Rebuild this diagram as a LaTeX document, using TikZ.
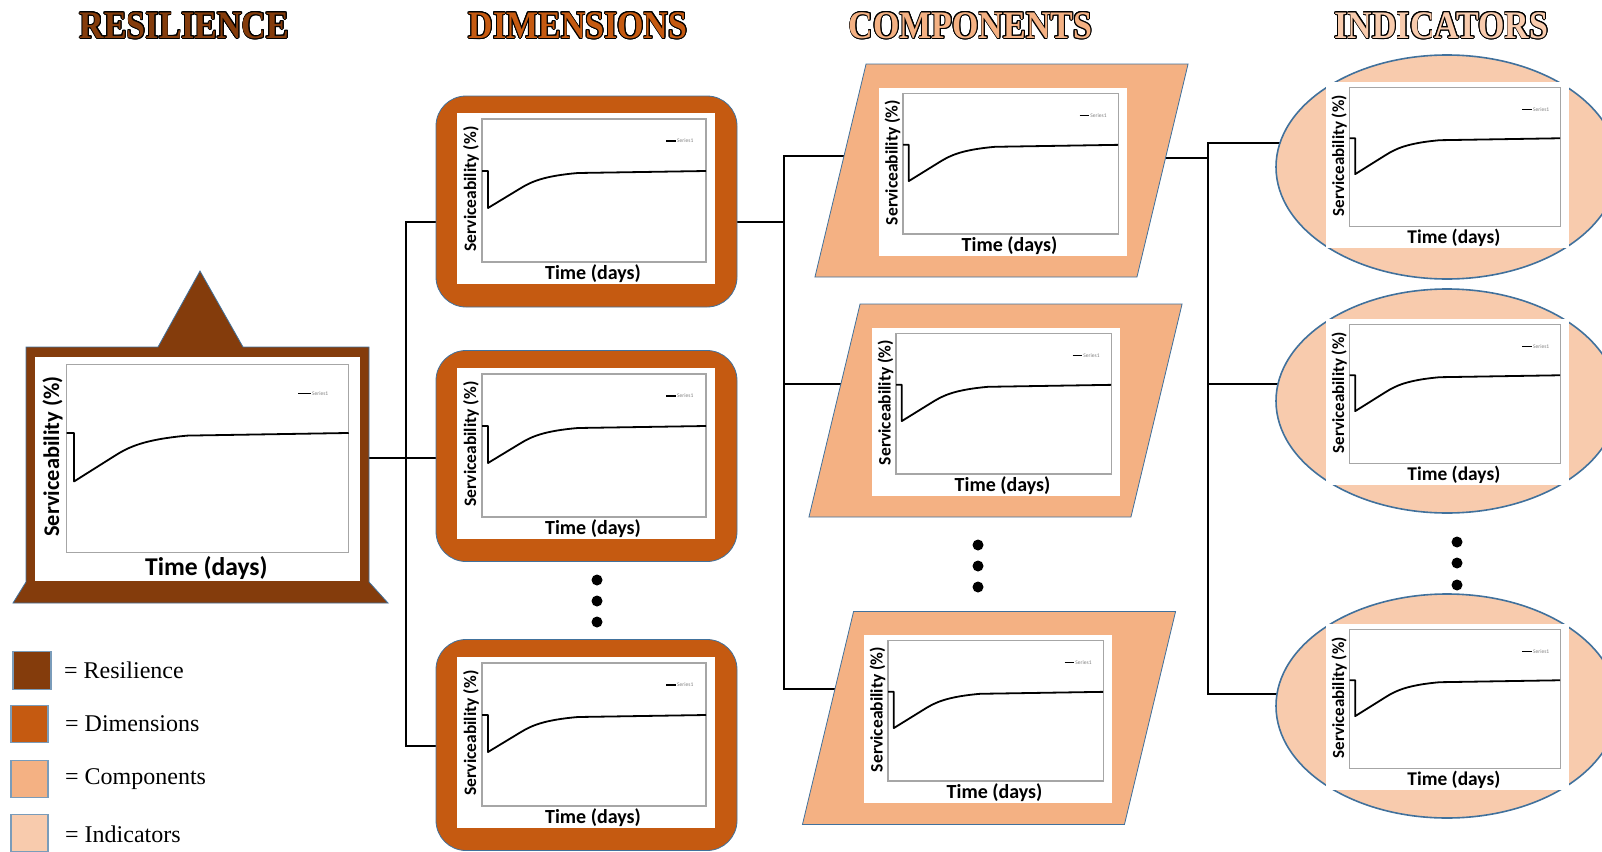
\documentclass[tikz,border=0pt]{standalone}
\usepackage{fontspec}
\setmainfont{Liberation Serif}
\setsansfont{Carlito}
\usepackage[copies]{contour}
\usetikzlibrary{shapes.geometric,backgrounds}

\definecolor{resil}{HTML}{843C0C}
\definecolor{dimen}{HTML}{C55A11}
\definecolor{compo}{HTML}{F4B183}
\definecolor{indic}{HTML}{F8CBAD}
\definecolor{edge}{HTML}{41719C}
\contourlength{1pt}

\begin{document}
\begin{tikzpicture}[x=1pt,y=-1pt]

\tikzset{line/.style={draw,line width=2pt}}
\tikzset{outl/.style={draw=edge,line width=0.8pt,inner sep=0pt}}
\tikzset{dimbox/.style={outl,rectangle,rounded corners=30pt,fill=dimen,minimum width=301pt,minimum height=211pt}}
\tikzset{compbox/.style={outl,rectangle,xslant=0.24,fill=compo,minimum width=322pt,minimum height=213pt}}
\tikzset{indbox/.style={outl,ellipse,line width=1.6pt,fill=indic,minimum width=342pt,minimum height=224pt}}
\tikzset{legbox/.style={draw=edge!70,line width=1.2pt,fill=#1,minimum size=37pt,inner sep=0pt}}
\tikzset{legtext/.style={anchor=west,inner sep=0pt,font=\fontsize{24}{24}\selectfont}}
\tikzset{head/.style={font=\fontsize{39}{39}\selectfont\bfseries,xscale=0.87,text=#1}}
\tikzset{plotframe/.style={draw=black!35,line width=1.1pt}}
\tikzset{servline/.style={draw=black,line width=1.8pt,line join=round}}
\tikzset{keytext/.style={anchor=west,inner sep=1pt,text=black!50,font=\sffamily\fontsize{5.5}{5.5}\selectfont}}
\tikzset{chart/.pic={
  \pgfmathsetmacro\chxs{20*#1}
  \pgfmathsetmacro\chys{17.5*#1}
  \fill[white] (0,0) rectangle (258,171);
  \draw[plotframe] (25,6) rectangle (249,149);
  \draw[servline] (25,58) -- (31,58) -- (31,95) -- (64,75) .. controls (74,69) and (86,63) .. (121,60) -- (249,58);
  \draw[servline,line width=1.3pt] (209,28) -- (219,28);
  \node[keytext] (key) at (219,28) {Series1};
  \node[font=\sffamily\bfseries\fontsize{\chys}{\chys}\selectfont,rotate=90] (ylab) at (14,76) {Serviceability (\%)};
  \node[font=\sffamily\bfseries\fontsize{\chxs}{\chxs}\selectfont] (xlab) at (136,161) {Time (days)};
}}

\useasboundingbox (0,0) rectangle (1602,851);

\node[head=resil] (h1) at (184.5,26) {\contour{black}{RESILIENCE}};
\node[head=dimen] (h2) at (578,26) {\contour{black}{DIMENSIONS}};
\node[head=compo] (h3) at (970.5,26) {\contour{black}{COMPONENTS}};
\node[head=indic] (h4) at (1441.5,26) {\contour{black}{INDICATORS}};

\path[outl,fill=resil] (13,603) -- (26,582) -- (26,347) -- (158,347) -- (200,271) -- (243,347) -- (369,347) -- (369,582) -- (388,603) -- cycle;
\coordinate (res) at (369,458);

\node[dimbox] (d1) at (586.5,201.5) {};
\node[dimbox] (d2) at (586.5,456) {};
\node[dimbox] (d3) at (586.5,745) {};

\node[compbox] (c1) at (1001.5,170.5) {};
\node[compbox] (c2) at (995.5,410.5) {};
\node[compbox] (c3) at (989,718) {};

\node[indbox] (i1) at (1447,167) {};
\node[indbox] (i2) at (1447,401) {};
\node[indbox] (i3) at (1447,706) {};

\coordinate (t1) at (406,222);
\coordinate (t3) at (406,746);
\coordinate (u1) at (784,156);
\coordinate (u2) at (784,384);
\coordinate (u3) at (784,689);
\coordinate (v0) at (1208,158);
\coordinate (v1) at (1208,143);
\coordinate (v2) at (1208,384);
\coordinate (v3) at (1208,694);

\begin{scope}[on background layer]
\path[line] (res) -- (d2 |- res);
\path[line] (d1 |- t1) -- (t1) -- (t3) -- (d3 |- t3);
\path[line] (d1 |- t1) -- (t1 -| u1);
\path[line] (c1 |- u1) -- (u1) -- (u3) -- (c3 |- u3);
\path[line] (u2) -- (c2 |- u2);
\path[line] (c1 |- v0) -- (v0);
\path[line] (i1 |- v1) -- (v1) -- (v3) -- (i3 |- v3);
\path[line] (v2) -- (i2 |- v2);
\end{scope}

\pic[xscale=1.26,yscale=1.31] (r) at (35,357) {chart=1.28};
\pic (da) at (457,113) {chart=1};
\pic (db) at (457,368) {chart=1};
\pic (dc) at (457,657) {chart=1};
\pic[xscale=0.96,yscale=0.98] (ca) at (879,88) {chart=1};
\pic[xscale=0.96,yscale=0.98] (cb) at (872,328) {chart=1};
\pic[xscale=0.96,yscale=0.98] (cc) at (864,635) {chart=1};
\pic[xscale=0.94,yscale=0.97] (ia) at (1326,82) {chart=0.97};
\pic[xscale=0.94,yscale=0.97] (ib) at (1326,319) {chart=0.97};
\pic[xscale=0.94,yscale=0.97] (ic) at (1326,624) {chart=0.97};

\foreach \y in {580,601,622} \fill (597,\y) circle (5.5);
\foreach \y in {545,566,587} \fill (978,\y) circle (5.5);
\foreach \y in {542,563,585} \fill (1457,\y) circle (5.5);

\node[legbox=resil,minimum size=38pt] (k1) at (32,670.5) {};
\node[legbox=dimen] (k2) at (29.5,724) {};
\node[legbox=compo] (k3) at (29.5,779) {};
\node[legbox=indic] (k4) at (29.5,833) {};
\node[legtext] (l1) at (64,670) {= Resilience};
\node[legtext] (l2) at (65,724) {= Dimensions};
\node[legtext] (l3) at (65,779) {= Components};
\node[legtext] (l4) at (65,834) {= Indicators};

\end{tikzpicture}
\end{document}
